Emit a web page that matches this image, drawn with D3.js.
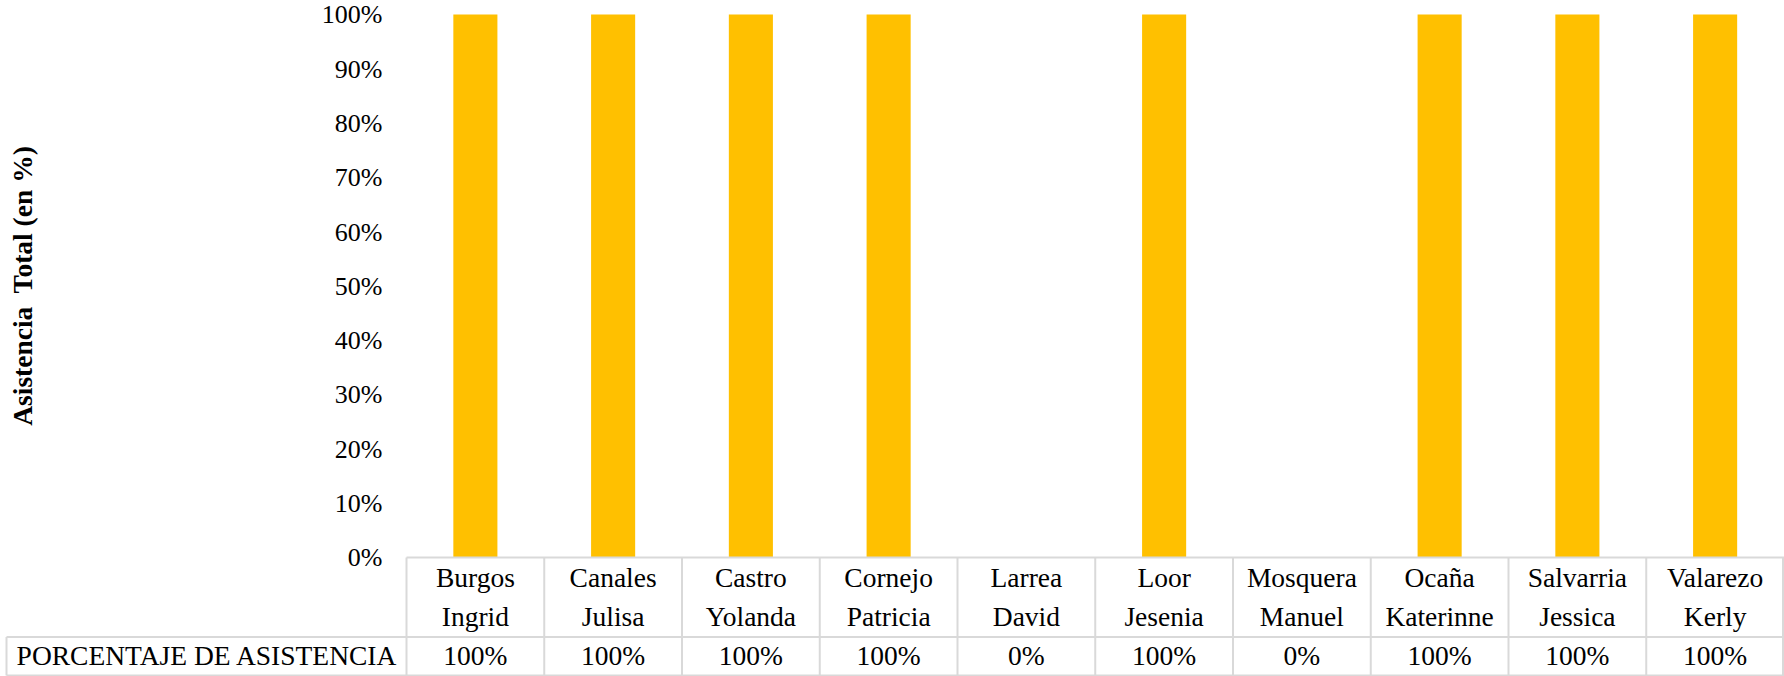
<!DOCTYPE html>
<html>
<head>
<meta charset="utf-8">
<script src="https://cdnjs.cloudflare.com/ajax/libs/d3/7.8.5/d3.min.js"></script>
<style>
  body { margin: 0; background: #fff; }
  svg { display: block; font-family: "Liberation Serif", "Times New Roman", serif; }
</style>
</head>
<body>
<div id="chart"></div>
<script>
// datos
var apellidos = ['Burgos', 'Canales', 'Castro', 'Cornejo', 'Larrea', 'Loor', 'Mosquera', 'Ocaña', 'Salvarria', 'Valarezo'];
var nombres = ['Ingrid', 'Julisa', 'Yolanda', 'Patricia', 'David', 'Jesenia', 'Manuel', 'Katerinne', 'Jessica', 'Kerly'];
var asistencia = [1, 1, 1, 1, 0, 1, 0, 1, 1, 1];
var yTicks = [0, 0.1, 0.2, 0.3, 0.4, 0.5, 0.6, 0.7, 0.8, 0.9, 1];
var serieLabel = 'PORCENTAJE DE ASISTENCIA';
var yTitle = 'Asistencia  Total (en %)';

var width = 1784, height = 676;
var plotLeft = 406.5, plotRight = 1784, plotTop = 14.5, plotBottom = 557.5;
var rowMid = 637, tableBottom = 675.5, tableLeft = 6.5;
var gridColor = '#d9d9d9';
var barColor = '#FFC000';
var tableFont = 27.5;

var svg = d3.select('#chart').append('svg')
    .attr('width', width)
    .attr('height', height);

var pct = d3.format('.0%');

var x = d3.scaleBand()
    .domain(d3.range(apellidos.length))
    .range([plotLeft, plotRight])
    .paddingInner(0.68)
    .paddingOuter(0.34);

var y = d3.scaleLinear()
    .domain([0, 1])
    .range([plotBottom, plotTop]);

// bars
svg.append('g').selectAll('rect')
    .data(asistencia)
    .enter()
    .append('rect')
    .attr('x', (d, i) => x(i))
    .attr('y', d => y(d))
    .attr('width', x.bandwidth())
    .attr('height', d => y(0) - y(d))
    .attr('fill', barColor);

// y axis (labels only)
var yAxis = d3.axisLeft(y)
    .tickValues(yTicks)
    .tickFormat(pct)
    .tickSize(0)
    .tickPadding(24);

var ya = svg.append('g')
    .attr('transform', 'translate(' + plotLeft + ',0)')
    .call(yAxis);
ya.select('.domain').remove();
ya.selectAll('text')
    .attr('font-size', 26)
    .attr('font-family', '"Liberation Serif", serif')
    .attr('fill', '#000');

// y title
svg.append('text')
    .attr('transform', 'translate(32,' + ((plotTop + plotBottom) / 2) + ') rotate(-90)')
    .attr('text-anchor', 'middle')
    .attr('font-size', 27.5)
    .attr('font-weight', 'bold')
    .attr('fill', '#000')
    .style('white-space', 'pre')
    .text(yTitle);

// data table
var step = x.step();
var colX = i => plotLeft + i * step;
var tbl = svg.append('g')
    .attr('stroke', gridColor)
    .attr('stroke-width', 2)
    .attr('fill', 'none');

tbl.append('line').attr('x1', plotLeft).attr('x2', plotRight).attr('y1', plotBottom).attr('y2', plotBottom);
tbl.append('line').attr('x1', tableLeft).attr('x2', plotRight).attr('y1', rowMid).attr('y2', rowMid);
tbl.append('line').attr('x1', tableLeft).attr('x2', plotRight).attr('y1', tableBottom).attr('y2', tableBottom);
tbl.append('line').attr('x1', tableLeft).attr('x2', tableLeft).attr('y1', rowMid).attr('y2', tableBottom);

tbl.selectAll('.vline')
    .data(d3.range(apellidos.length + 1))
    .enter()
    .append('line')
    .attr('class', 'vline')
    .attr('x1', d => Math.min(colX(d), plotRight - 1))
    .attr('x2', d => Math.min(colX(d), plotRight - 1))
    .attr('y1', plotBottom)
    .attr('y2', tableBottom);

var cats = svg.append('g')
    .attr('font-size', tableFont)
    .attr('text-anchor', 'middle')
    .attr('fill', '#000');

cats.selectAll('.ap')
    .data(apellidos)
    .enter()
    .append('text')
    .attr('x', (d, i) => colX(i) + step / 2)
    .attr('y', 587)
    .text(d => d);

cats.selectAll('.nom')
    .data(nombres)
    .enter()
    .append('text')
    .attr('x', (d, i) => colX(i) + step / 2)
    .attr('y', 626)
    .text(d => d);

cats.selectAll('.val')
    .data(asistencia)
    .enter()
    .append('text')
    .attr('x', (d, i) => colX(i) + step / 2)
    .attr('y', 665)
    .text(d => pct(d));

cats.append('text')
    .attr('x', (tableLeft + plotLeft) / 2)
    .attr('y', 665)
    .text(serieLabel);
</script>
</body>
</html>
